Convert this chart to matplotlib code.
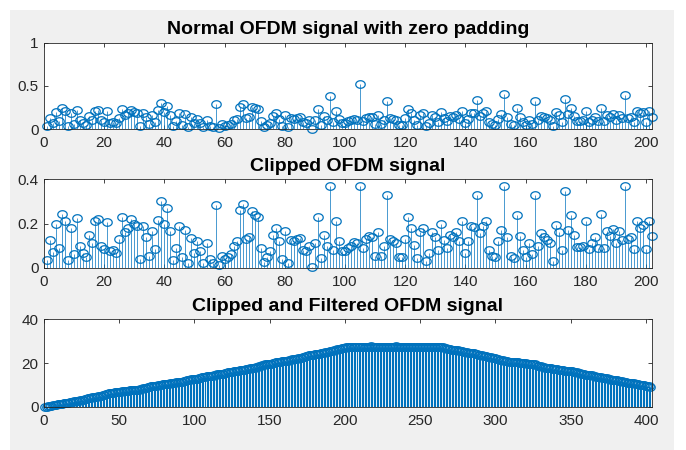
import numpy as np
import matplotlib
matplotlib.use("Agg")
import matplotlib.pyplot as plt
from matplotlib.path import Path
from matplotlib.patches import Rectangle

# ---------------- data ----------------
normal = [
    0.035, 0.125, 0.07, 0.20, 0.09, 0.245, 0.21, 0.035, 0.18, 0.06,
    0.225, 0.10, 0.065, 0.05, 0.15, 0.11, 0.21, 0.22, 0.10, 0.085,
    0.205, 0.075, 0.08, 0.065, 0.13, 0.23, 0.16, 0.18, 0.22, 0.20,
    0.19, 0.04, 0.19, 0.14, 0.055, 0.165, 0.085, 0.215, 0.30, 0.20,
    0.27, 0.165, 0.035, 0.09, 0.19, 0.05, 0.17, 0.02, 0.135, 0.065,
    0.12, 0.075, 0.02, 0.11, 0.04, 0.02, 0.285, 0.01, 0.055, 0.04,
    0.05, 0.06, 0.10, 0.12, 0.26, 0.29, 0.13, 0.14, 0.255, 0.24,
    0.23, 0.09, 0.025, 0.05, 0.075, 0.15, 0.18, 0.12, 0.04, 0.165,
    0.02, 0.125, 0.12, 0.13, 0.135, 0.08, 0.075, 0.10, 0.005, 0.11,
    0.23, 0.045, 0.15, 0.10, 0.38, 0.08, 0.21, 0.12, 0.075, 0.075,
    0.09, 0.10, 0.115, 0.11, 0.52, 0.09, 0.13, 0.145, 0.14, 0.055,
    0.16, 0.055, 0.10, 0.33, 0.13, 0.12, 0.11, 0.05, 0.05, 0.13,
    0.23, 0.18, 0.105, 0.045, 0.16, 0.18, 0.03, 0.065, 0.16, 0.14,
    0.08, 0.20, 0.125, 0.09, 0.15, 0.14, 0.16, 0.12, 0.21, 0.065,
    0.12, 0.19, 0.185, 0.34, 0.155, 0.19, 0.21, 0.08, 0.055, 0.05,
    0.12, 0.17, 0.40, 0.14, 0.055, 0.045, 0.24, 0.145, 0.08, 0.05,
    0.11, 0.06, 0.33, 0.10, 0.155, 0.14, 0.125, 0.11, 0.03, 0.195,
    0.16, 0.08, 0.35, 0.17, 0.24, 0.15, 0.095, 0.095, 0.10, 0.21,
    0.085, 0.11, 0.14, 0.09, 0.245, 0.09, 0.165, 0.145, 0.175, 0.11,
    0.165, 0.125, 0.39, 0.13, 0.14, 0.085, 0.21, 0.18, 0.195, 0.085,
    0.21, 0.145,
]

clipped = [
    0.035, 0.125, 0.07, 0.20, 0.09, 0.245, 0.21, 0.035, 0.18, 0.06,
    0.225, 0.10, 0.065, 0.05, 0.15, 0.11, 0.21, 0.22, 0.10, 0.085,
    0.205, 0.075, 0.08, 0.065, 0.13, 0.23, 0.16, 0.18, 0.22, 0.20,
    0.19, 0.04, 0.19, 0.14, 0.055, 0.165, 0.085, 0.215, 0.30, 0.20,
    0.27, 0.165, 0.035, 0.09, 0.19, 0.05, 0.17, 0.02, 0.135, 0.065,
    0.12, 0.075, 0.02, 0.11, 0.04, 0.02, 0.285, 0.01, 0.055, 0.04,
    0.05, 0.06, 0.10, 0.12, 0.26, 0.29, 0.13, 0.14, 0.255, 0.24,
    0.23, 0.09, 0.025, 0.05, 0.075, 0.15, 0.18, 0.12, 0.04, 0.165,
    0.02, 0.125, 0.12, 0.13, 0.135, 0.08, 0.075, 0.10, 0.005, 0.11,
    0.23, 0.045, 0.15, 0.10, 0.37, 0.08, 0.21, 0.12, 0.075, 0.075,
    0.09, 0.10, 0.115, 0.11, 0.37, 0.09, 0.13, 0.145, 0.14, 0.055,
    0.16, 0.055, 0.10, 0.33, 0.13, 0.12, 0.11, 0.05, 0.05, 0.13,
    0.23, 0.18, 0.105, 0.045, 0.16, 0.18, 0.03, 0.065, 0.16, 0.14,
    0.08, 0.20, 0.125, 0.09, 0.15, 0.14, 0.16, 0.12, 0.21, 0.065,
    0.12, 0.19, 0.185, 0.33, 0.155, 0.19, 0.21, 0.08, 0.055, 0.05,
    0.12, 0.17, 0.37, 0.14, 0.055, 0.045, 0.24, 0.145, 0.08, 0.05,
    0.11, 0.06, 0.33, 0.10, 0.155, 0.14, 0.125, 0.11, 0.03, 0.195,
    0.16, 0.08, 0.345, 0.17, 0.24, 0.15, 0.095, 0.095, 0.10, 0.21,
    0.085, 0.11, 0.14, 0.09, 0.245, 0.09, 0.165, 0.145, 0.175, 0.11,
    0.165, 0.125, 0.37, 0.13, 0.14, 0.085, 0.21, 0.18, 0.195, 0.085,
    0.21, 0.145,
]

filtered = [
    0.04, 0.16, 0.23, 0.43, 0.52, 0.77, 0.98, 1.01, 1.19, 1.25,
    1.48, 1.58, 1.64, 1.69, 1.84, 1.95, 2.16, 2.38, 2.48, 2.57,
    2.77, 2.85, 2.93, 2.99, 3.12, 3.35, 3.51, 3.69, 3.91, 4.11,
    4.30, 4.34, 4.53, 4.67, 4.73, 4.89, 4.98, 5.19, 5.49, 5.69,
    5.96, 6.13, 6.16, 6.25, 6.44, 6.49, 6.66, 6.68, 6.82, 6.88,
    7.00, 7.08, 7.10, 7.21, 7.25, 7.27, 7.55, 7.56, 7.62, 7.66,
    7.71, 7.77, 7.87, 7.99, 8.25, 8.54, 8.67, 8.81, 9.06, 9.30,
    9.53, 9.62, 9.65, 9.70, 9.77, 9.92, 10.10, 10.22, 10.26, 10.43,
    10.45, 10.57, 10.69, 10.82, 10.96, 11.04, 11.11, 11.21, 11.22, 11.33,
    11.56, 11.60, 11.75, 11.85, 12.22, 12.30, 12.51, 12.63, 12.71, 12.78,
    12.87, 12.97, 13.09, 13.20, 13.57, 13.66, 13.79, 13.93, 14.07, 14.13,
    14.29, 14.34, 14.44, 14.77, 14.90, 15.02, 15.13, 15.18, 15.23, 15.36,
    15.59, 15.77, 15.88, 15.92, 16.08, 16.26, 16.29, 16.36, 16.52, 16.66,
    16.74, 16.94, 17.06, 17.15, 17.30, 17.44, 17.60, 17.72, 17.93, 18.00,
    18.12, 18.31, 18.49, 18.82, 18.98, 19.17, 19.38, 19.46, 19.51, 19.56,
    19.68, 19.85, 20.22, 20.36, 20.42, 20.46, 20.70, 20.85, 20.93, 20.98,
    21.09, 21.15, 21.48, 21.58, 21.73, 21.87, 22.00, 22.11, 22.14, 22.33,
    22.49, 22.57, 22.92, 23.09, 23.33, 23.48, 23.57, 23.67, 23.77, 23.98,
    24.06, 24.17, 24.31, 24.40, 24.65, 24.74, 24.90, 25.05, 25.22, 25.33,
    25.50, 25.62, 25.99, 26.12, 26.26, 26.35, 26.56, 26.74, 26.93, 27.02,
    27.23, 27.37,
    27.40, 27.45, 27.45, 27.50, 27.50, 27.55, 27.50, 27.50, 27.55, 27.55,
    27.50, 27.45, 27.50, 27.55, 27.60, 27.55, 27.50, 27.50, 27.45, 27.50,
    27.55, 27.55, 27.50, 27.50, 27.45, 27.45, 27.50, 27.55, 27.50, 27.50,
    27.55, 27.60, 27.55, 27.50, 27.50, 27.45, 27.50, 27.50, 27.55, 27.50,
    27.50, 27.45, 27.50, 27.55, 27.55, 27.50, 27.50, 27.45, 27.50, 27.50,
    27.55, 27.50, 27.45, 27.50, 27.50, 27.45, 27.45, 27.45, 27.40, 27.40,
    27.37, 27.24, 27.17, 26.97, 26.88, 26.64, 26.43, 26.39, 26.21, 26.15,
    25.93, 25.83, 25.76, 25.71, 25.56, 25.45, 25.24, 25.02, 24.92, 24.84,
    24.63, 24.56, 24.48, 24.41, 24.28, 24.05, 23.89, 23.71, 23.49, 23.29,
    23.10, 23.06, 22.87, 22.73, 22.68, 22.51, 22.43, 22.21, 21.91, 21.71,
    21.44, 21.28, 21.24, 21.15, 20.96, 20.91, 20.74, 20.72, 20.59, 20.52,
    20.40, 20.33, 20.31, 20.20, 20.16, 20.14, 19.85, 19.84, 19.79, 19.75,
    19.70, 19.64, 19.54, 19.42, 19.16, 18.87, 18.74, 18.60, 18.34, 18.10,
    17.87, 17.78, 17.76, 17.71, 17.63, 17.48, 17.30, 17.18, 17.14, 16.98,
    16.96, 16.83, 16.71, 16.58, 16.45, 16.37, 16.29, 16.19, 16.19, 16.08,
    15.85, 15.80, 15.65, 15.55, 15.18, 15.10, 14.89, 14.77, 14.70, 14.62,
    14.53, 14.43, 14.32, 14.21, 13.84, 13.75, 13.62, 13.47, 13.33, 13.28,
    13.12, 13.06, 12.96, 12.63, 12.50, 12.38, 12.27, 12.22, 12.17, 12.04,
    11.81, 11.63, 11.53, 11.48, 11.32, 11.14, 11.11, 11.05, 10.89, 10.75,
    10.67, 10.47, 10.34, 10.25, 10.10, 9.96, 9.80, 9.68, 9.47, 9.41,
    9.29,
]

titles = ["Normal OFDM signal with zero padding",
          "Clipped OFDM signal",
          "Clipped and Filtered OFDM signal"]
xticks_short = [0, 20, 40, 60, 80, 100, 120, 140, 160, 180, 200]
xticks_long = [0, 50, 100, 150, 200, 250, 300, 350, 400]
yticks1 = [0, 0.5, 1]
yticks2 = [0, 0.2, 0.4]
yticks3 = [0, 20, 40]

# ---------------- style ----------------
plt.rcParams['font.family'] = ['Liberation Sans', 'DejaVu Sans']
BLUE = '#0072BD'
AXC = '#262626'

theta = np.linspace(0, 2 * np.pi, 61)
ell = Path(np.column_stack([1.25 * np.cos(theta), np.sin(theta)]))

fig = plt.figure(figsize=(6.86, 4.5), dpi=100, facecolor='white')
fig.patches.append(Rectangle((10 / 686, 0), 664 / 686, 440 / 450,
                             transform=fig.transFigure, facecolor='#f0f0f0',
                             edgecolor='none', zorder=-10))

L, W = 0.0641, 0.8863
ax1 = fig.add_axes([L, 0.7133, W, 0.1918])
ax2 = fig.add_axes([L, 0.4051, W, 0.1964])
ax3 = fig.add_axes([L, 0.0956, W, 0.1949])


def stem_plot(ax, y, ms, lw):
    x = np.arange(1, len(y) + 1)
    ml, sl, bl = ax.stem(x, y, linefmt='-', markerfmt='o', basefmt='-')
    sl.set_color(BLUE)
    sl.set_linewidth(lw)
    ml.set_marker(ell)
    ml.set_markerfacecolor('none')
    ml.set_markeredgecolor(BLUE)
    ml.set_markersize(ms)
    ml.set_markeredgewidth(0.9)
    ml.set_clip_on(False)
    bl.set_color(AXC)
    bl.set_linewidth(0.6)


stem_plot(ax1, normal, 6.8, 0.5)
stem_plot(ax2, clipped, 6.8, 0.5)
stem_plot(ax3, filtered, 6.8, 0.8)

for ax, title, xt, yt, xmax in [
        (ax1, titles[0], xticks_short, yticks1, 202),
        (ax2, titles[1], xticks_short, yticks2, 202),
        (ax3, titles[2], xticks_long, yticks3, 404)]:
    ax.set_facecolor('white')
    ax.set_xlim(0, xmax)
    ax.set_ylim(yt[0], yt[-1])
    ax.set_xticks(xt)
    ax.set_yticks(yt)
    ax.set_yticklabels([f"{v:g}" for v in yt])
    ax.tick_params(direction='in', top=True, right=True, length=3,
                   width=0.6, colors=AXC, labelsize=11, pad=4)
    ax.tick_params(axis='x', pad=5)
    for s in ax.spines.values():
        s.set_color(AXC)
        s.set_linewidth(0.6)
    ax.set_title(title, fontsize=14, fontweight='bold', color='black', pad=6)

fig.savefig('out.png', dpi=100, facecolor=fig.get_facecolor())
